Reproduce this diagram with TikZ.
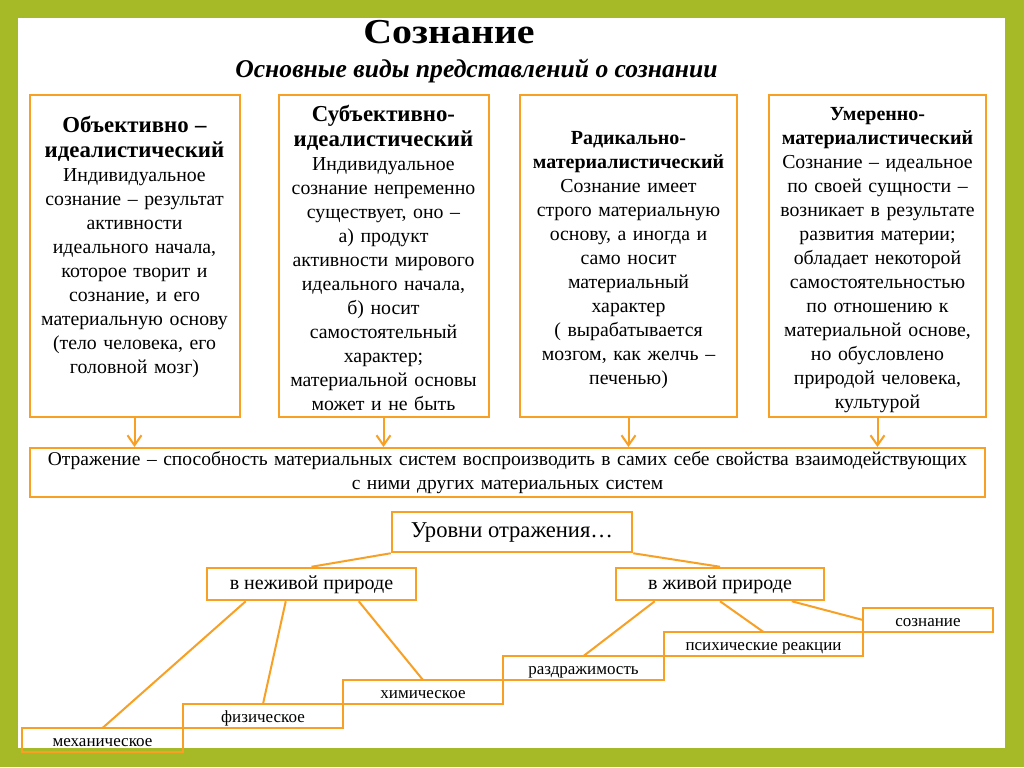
\documentclass[tikz,border=0pt]{standalone}
\usepackage{fontspec}
\setmainfont{Liberation Serif}
\usetikzlibrary{positioning, arrows.meta}
\definecolor{frame}{RGB}{166,186,40}
\definecolor{edge}{RGB}{247,160,36}
\newcommand{\viewhead}{\bfseries\fontsize{11.4}{12.5}\selectfont}
\newcommand{\viewheadsmall}{\bfseries\fontsize{10}{12}\selectfont}

\begin{document}
\begin{tikzpicture}[x=0.5pt, y=-0.5pt]
  % Define styles
  \tikzstyle{view} = [rectangle, draw=edge, line width=1pt, anchor=north, align=center, text width=101pt, inner xsep=2pt, inner ysep=0pt, font=\fontsize{9.9}{12}\selectfont]
  \tikzstyle{wideview} = [view, text width=104.5pt]
  \tikzstyle{level} = [rectangle, draw=edge, line width=1.25pt, inner sep=0pt, text height=6.5pt, text depth=1.2pt, font=\fontsize{10}{12}\selectfont]
  \tikzstyle{stair} = [rectangle, draw=edge, line width=1pt, minimum height=12pt, inner sep=0pt, outer sep=0pt, text height=6.5pt, text depth=0pt, font=\fontsize{8.5}{10}\selectfont]
  \tikzstyle{arrow} = [draw=edge, line width=1pt, -{Straight Barb[length=5pt, width=7pt]}]
  \tikzstyle{link} = [draw=edge, line width=1pt]

  % Frame
  \fill[frame] (0,0) rectangle (1024,767);
  \fill[white] (18,18) rectangle (1005,748);

  % Title
  \node (title) [anchor=base, font=\bfseries\fontsize{17.5}{21}\selectfont] at (449,43) {\scalebox{1.14}[1]{Сознание}};
  \node (subtitle) [anchor=base, font=\bfseries\itshape\fontsize{12.8}{15}\selectfont] at (476.5,77) {Основные виды представлений о сознании};

  % Four views
  \node (objective) [view, text height=18.5pt, text depth=142.5pt] at (134.5,94)
    {{\viewhead Объективно –\\ идеалистический\par}
     Индивидуальное\\ сознание – результат\\ активности\\ идеального начала,\\ которое творит и\\ сознание, и его\\ материальную основу\\ (тело человека, его\\ головной мозг)};

  \node (subjective) [view, text height=13pt, text depth=148pt] at (383.5,94)
    {{\viewhead Субъективно-\\ идеалистический\par}
     Индивидуальное\\ сознание непременно\\ существует, оно –\\ а) продукт\\ активности мирового\\ идеального начала,\\ б) носит\\ самостоятельный\\ характер;\\ материальной основы\\ может и не быть};

  \node (radical) [wideview, text height=24.5pt, text depth=136.5pt] at (628.5,94)
    {{\viewheadsmall Радикально-\\ материалистический\par}
     Сознание имеет\\ строго материальную\\ основу, а иногда и\\ само носит\\ материальный\\ характер\\ ( вырабатывается\\ мозгом, как желчь –\\ печенью)};

  \node (moderate) [wideview, text height=12.5pt, text depth=148.5pt] at (877.5,94)
    {{\viewheadsmall Умеренно-\\ материалистический\par}
     Сознание – идеальное\\ по своей сущности –\\ возникает в результате\\ развития материи;\\ обладает некоторой\\ самостоятельностью\\ по отношению к\\ материальной основе,\\ но обусловлено\\ природой человека,\\ культурой};

  % Reflection
  \node (reflection) [rectangle, draw=edge, line width=1pt, align=center, text width=473.5pt, inner xsep=2pt, inner ysep=0pt, minimum height=24.5pt, font=\fontsize{9.75}{12}\selectfont] at (507.5,472.5)
    {Отражение – способность материальных систем воспроизводить в самих себе свойства взаимодействующих\\ с ними других материальных систем};

  \draw [arrow] (objective.south) -- (objective.south |- reflection.north);
  \draw [arrow] (subjective.south) -- (subjective.south |- reflection.north);
  \draw [arrow] (radical.south) -- (radical.south |- reflection.north);
  \draw [arrow] (moderate.south) -- (moderate.south |- reflection.north);

  % Levels of reflection
  \node (levels) [level, minimum width=120pt, minimum height=20pt, font=\fontsize{11.3}{13}\selectfont] at (512,532) {Уровни отражения…};
  \node (nonliving) [level, minimum width=104.5pt, minimum height=16pt] at (311.5,584) {в неживой природе};
  \node (living) [level, minimum width=104pt, minimum height=16pt] at (720,584) {в живой природе};

  % Staircase
  \node (mech) [stair, minimum width=80.5pt] at (102.5,740) {механическое};
  \node (phys) [stair, minimum width=80pt, above right=0pt and 0pt of mech] {физическое};
  \node (chem) [stair, minimum width=80pt, above right=0pt and 0pt of phys] {химическое};
  \node (irrit) [stair, minimum width=80.5pt, above right=0pt and 0pt of chem] {раздражимость};
  \node (psych) [stair, minimum width=99.5pt, above right=0pt and 0pt of irrit] {психические реакции};
  \node (consc) [stair, minimum width=65pt, above right=0pt and 0pt of psych] {сознание};

  % Tree links
  \draw [link] (levels.south west) -- (nonliving.north);
  \draw [link] (levels.south east) -- (living.north);
  \draw [link] ([xshift=20pt]nonliving.south west) -- (mech.north);
  \draw [link] ([xshift=40pt]nonliving.south west) -- (phys.north);
  \draw [link] ([xshift=76.5pt]nonliving.south west) -- (chem.north);
  \draw [link] ([xshift=20pt]living.south west) -- (irrit.north);
  \draw [link] (living.south) -- (psych.north);
  \draw [link] ([xshift=88.5pt]living.south west) -- (consc.west);
\end{tikzpicture}
\end{document}
